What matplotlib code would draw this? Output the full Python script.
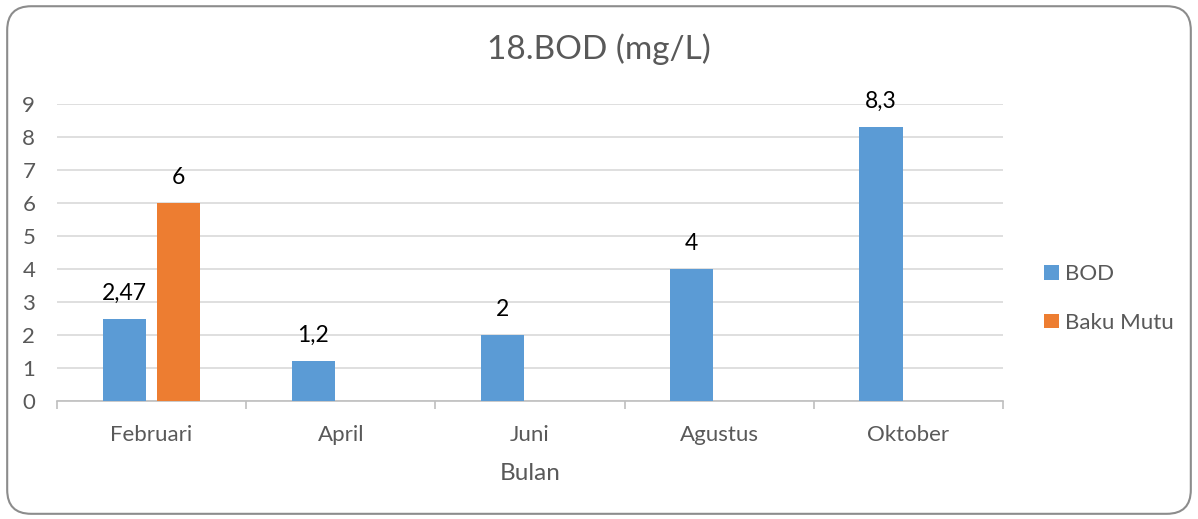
import numpy as np
import matplotlib
matplotlib.use("Agg")
import matplotlib.pyplot as plt
from matplotlib.patches import FancyBboxPatch

plt.rcParams['font.family'] = ['Lato', 'DejaVu Sans']

bulan = ["Februari", "April", "Juni", "Agustus", "Oktober"]
bod = [2.47, 1.2, 2, 4, 8.3]
baku_mutu = [6, np.nan, np.nan, np.nan, np.nan]
yticks = list(range(0, 10))

c_bod = '#5B9BD5'
c_baku = '#ED7D31'
c_text = '#595959'

fig = plt.figure(figsize=(11.98, 5.19), dpi=100)
ax = fig.add_axes([0.0476, 0.2274, 0.7896, 0.5723])

# rounded chart border
border = FancyBboxPatch((0.006, 0.01), 0.988, 0.978,
                        boxstyle="round,pad=0,rounding_size=0.02",
                        transform=fig.transFigure, fill=False,
                        edgecolor='#8c8c8c', linewidth=1.5,
                        mutation_aspect=1198/519)
fig.patches.append(border)

x = np.arange(len(bulan))
w = 0.228
b1 = ax.bar(x - 0.145, bod, w, color=c_bod, label="BOD", zorder=3)
b2 = ax.bar(x + 0.14, baku_mutu, w, color=c_baku, label="Baku Mutu", zorder=3)

def fmt(v):
    if np.isnan(v):
        return ""
    return ("%g" % v).replace('.', ',')

ax.bar_label(b1, labels=[fmt(v) for v in bod], padding=11, fontsize=16.5, color='black')
ax.bar_label(b2, labels=[fmt(v) for v in baku_mutu], padding=11, fontsize=16.5, color='black')

ax.set_xlim(-0.5, len(bulan) - 0.5)
ax.set_ylim(0, 9)
ax.set_yticks(yticks)
ax.yaxis.grid(True, color='#D9D9D9', linewidth=1.2, zorder=0)
ax.set_axisbelow(True)

# category ticks at boundaries, labels at centers
ax.set_xticks(np.arange(-0.5, len(bulan)), minor=False)
ax.set_xticklabels([])
ax.set_xticks(x, minor=True)
ax.set_xticklabels(bulan, minor=True)
ax.tick_params(axis='x', which='major', length=6, color='#BFBFBF', width=1.2, direction='out')
ax.tick_params(axis='x', which='minor', length=0, pad=17, labelsize=16, labelcolor=c_text)
ax.tick_params(axis='y', length=0, pad=25, labelsize=16, labelcolor=c_text)
for lab in ax.get_yticklabels():
    lab.set_horizontalalignment('left')

for s in ['top', 'right', 'left']:
    ax.spines[s].set_visible(False)
ax.spines['bottom'].set_color('#BFBFBF')
ax.spines['bottom'].set_linewidth(1.2)

ax.set_xlabel("Bulan", fontsize=17.5, color=c_text, labelpad=13)
fig.text(0.5, 0.905, "18.BOD (mg/L)", ha='center', va='center', fontsize=24, color=c_text)

leg = ax.legend(loc='center left', bbox_to_anchor=(0.855, 0.425),
                bbox_transform=fig.transFigure, frameon=False,
                fontsize=16, labelcolor=c_text, handlelength=0.65,
                handleheight=0.65, handletextpad=0.3, labelspacing=1.3)

fig.savefig("out.png", dpi=100)
